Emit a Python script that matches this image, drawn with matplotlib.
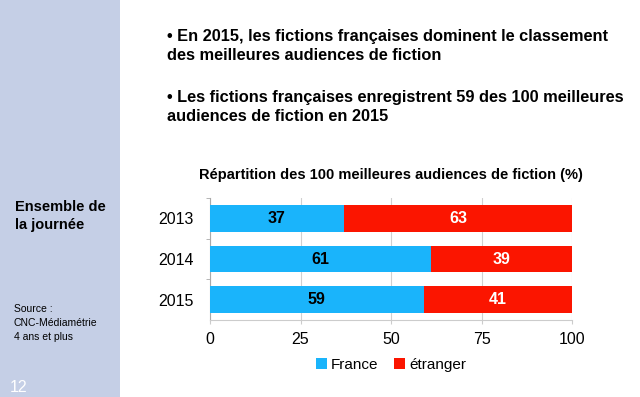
import numpy as np
import matplotlib.pyplot as plt
from matplotlib.patches import Rectangle

plt.rcParams['font.family'] = ['Liberation Sans', 'DejaVu Sans']

# data
years = ['2013', '2014', '2015']
france = [37, 61, 59]
etranger = [63, 39, 41]
xticks = [0, 25, 50, 75, 100]

blue = '#1ab4fb'
red = '#fb1500'

fig = plt.figure(figsize=(6.4, 3.97), dpi=100)

# left side band
fig.patches.append(Rectangle((0, 0), 120/640, 1, transform=fig.transFigure,
                             facecolor='#c5cfe6', edgecolor='none', zorder=0))

ax = fig.add_axes([210/640, 1-320/397, 362/640, 122/397])
y = np.arange(len(years))
ax.barh(y, france, height=0.66, color=blue, label='France', zorder=3)
ax.barh(y, etranger, left=france, height=0.66, color=red, label='étranger', zorder=3)

for i in range(len(years)):
    ax.text(france[i]/2, y[i], str(france[i]), ha='center', va='center',
            fontsize=11.5, fontweight='bold', color='black', zorder=4)
    ax.text(france[i] + etranger[i]/2, y[i], str(etranger[i]), ha='center', va='center',
            fontsize=11.5, fontweight='bold', color='white', zorder=4)

ax.set_xlim(0, 100)
ax.set_ylim(2.5, -0.5)
ax.set_xticks(xticks)
ax.set_yticks(y)
ax.set_yticklabels(years)
ax.set_yticks([-0.5, 0.5, 1.5], minor=True)
ax.tick_params(axis='y', which='major', length=0, pad=12, labelsize=11.5)
ax.tick_params(axis='y', which='minor', length=3, color='#aaaaaa')
ax.tick_params(axis='x', length=3, color='#cccccc', pad=6, labelsize=11.5)
ax.grid(axis='x', color='#d0d0d0', linewidth=0.8, zorder=0)
for s in ['top', 'right']:
    ax.spines[s].set_visible(False)
ax.spines['left'].set_color('#aaaaaa')
ax.spines['bottom'].set_color('#cccccc')

ax.set_title('Répartition des 100 meilleures audiences de fiction (%)',
             fontsize=10.5, fontweight='bold', pad=14)

ax.legend(loc='upper center', bbox_to_anchor=(0.5, -0.2), ncol=2, frameon=False,
          fontsize=11, handlelength=0.7, handleheight=0.7, handletextpad=0.3,
          columnspacing=1.0)

# bullet text
fig.text(167/640, 1-46/397, '• En 2015, les fictions françaises dominent le classement\ndes meilleures audiences de fiction',
         fontsize=11.8, fontweight='bold', va='center', linespacing=1.38)
fig.text(167/640, 1-107/397, '• Les fictions françaises enregistrent 59 des 100 meilleures\naudiences de fiction en 2015',
         fontsize=11.8, fontweight='bold', va='center', linespacing=1.38)

# side text
fig.text(15/640, 1-216/397, 'Ensemble de\nla journée', fontsize=10.5, fontweight='bold',
         va='center', linespacing=1.3)
fig.text(14/640, 1-323/397, 'Source :\nCNC-Médiamétrie\n4 ans et plus', fontsize=7.5,
         va='center', linespacing=1.55)
fig.text(10/640, 1-388/397, '12', fontsize=11.5, color='white', va='center')

fig.savefig('out.png', dpi=100)
